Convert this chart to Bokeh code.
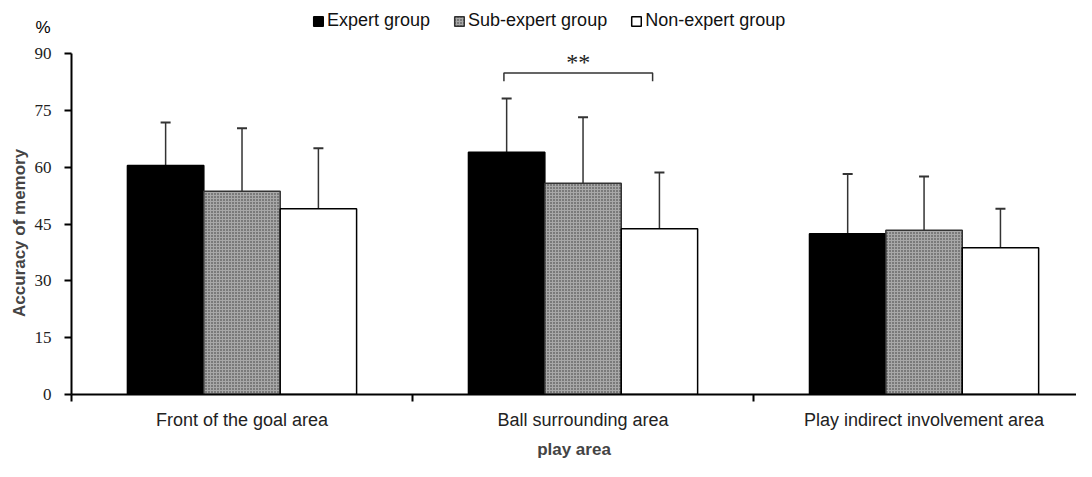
from bokeh.plotting import figure
from bokeh.models import (ColumnDataSource, Range1d, FixedTicker, Whisker, TeeHead,
                          Legend, LegendItem, LinearAxis)
from bokeh.embed import file_html
from bokeh.resources import INLINE
from bokeh.core.properties import value

# ---- data ----
areas = ["Front of the goal area", "Ball surrounding area", "Play indirect involvement area"]
groups = ["Expert group", "Sub-expert group", "Non-expert group"]
expert_mean = [60.5, 64.0, 42.5]
expert_sd = [11.4, 14.2, 15.8]
sub_mean = [53.7, 55.8, 43.4]
sub_sd = [16.7, 17.5, 14.2]
non_mean = [49.1, 43.8, 38.8]
non_sd = [16.0, 14.9, 10.3]
y_ticks = [0, 15, 30, 45, 60, 75, 90]
y_max = 90
y_title = "Accuracy of memory"
x_title = "play area"
unit_label = "%"
unit_pos = 97
sig_label = "**"
sig_y = 85.0
sig_drop = 2.2

# ---- layout constants ----
bar_w = 0.224
offsets = [-0.224, 0.0, 0.224]
centers = [i + 0.5 for i in range(len(areas))]

p = figure(width=1076, height=461, output_backend="svg", toolbar_location=None,
           x_range=Range1d(0, 2.947), y_range=Range1d(0, 104.13),
           min_border_left=71, min_border_right=0, min_border_top=0, min_border_bottom=63)
p.outline_line_color = None
p.xgrid.grid_line_color = None
p.ygrid.grid_line_color = None
p.background_fill_color = "white"

styles = [
    dict(fill_color="black", line_color="black"),
    dict(fill_color="#a8a8a8", line_color="#333333", hatch_pattern="dot",
         hatch_scale=3, hatch_color="#333333", hatch_weight=1.2),
    dict(fill_color="white", line_color="black"),
]
means = [expert_mean, sub_mean, non_mean]
sds = [expert_sd, sub_sd, non_sd]

renderers = []
for gi in range(3):
    xs = [c + offsets[gi] for c in centers]
    src = ColumnDataSource(dict(x=xs, top=means[gi],
                                upper=[m + s for m, s in zip(means[gi], sds[gi])]))
    r = p.vbar(x="x", top="top", width=bar_w, bottom=0, source=src, line_width=1.5,
               **styles[gi])
    renderers.append(r)
    w = Whisker(base="x", lower="top", upper="upper", source=src, dimension="height",
                line_color="#333333", line_width=1.5,
                upper_head=TeeHead(size=10, line_color="#333333", line_width=2),
                lower_head=None)
    p.add_layout(w)

# significance bracket (Expert vs Non-expert in second area)
sx0 = centers[1] + offsets[0] - 0.008
sx1 = centers[1] + offsets[2] - 0.02
p.line(x=[sx0, sx0, sx1, sx1], y=[sig_y - sig_drop, sig_y, sig_y, sig_y - sig_drop],
       line_color="#333333", line_width=1.5)
p.text(x=[(sx0 + sx1) / 2], y=[sig_y + 2.8], text=[sig_label], text_align="center",
       text_baseline="middle", text_font=value("Liberation Serif"),
       text_font_size="24px", text_color="#222222")

# main y axis (0..90)
ya = p.yaxis[0]
ya.bounds = (0, y_max)
ya.ticker = FixedTicker(ticks=y_ticks)
ya.axis_line_width = 2
ya.axis_line_color = "black"
ya.major_tick_line_width = 2
ya.major_tick_out = 7
ya.major_tick_in = 0
ya.minor_tick_line_color = None
ya.major_label_text_font = "Liberation Serif"
ya.major_label_text_font_size = "17px"
ya.major_label_text_color = "#222222"
ya.major_label_standoff = 13

# outer y axis carrying the unit "%" and the axis title
# (trailing no-break spaces lower the rotated title toward the bar area's middle)
yb = LinearAxis(ticker=FixedTicker(ticks=[unit_pos]),
                major_label_overrides={unit_pos: unit_label})
yb.axis_line_color = None
yb.major_tick_line_color = None
yb.minor_tick_line_color = None
yb.major_tick_out = 0
yb.major_tick_in = 0
yb.major_label_standoff = -19
yb.major_label_text_font = "Liberation Sans"
yb.major_label_text_font_size = "17px"
yb.major_label_text_color = "black"
yb.axis_label = y_title + "\u00a0" * 15
yb.axis_label_text_font = "Liberation Sans"
yb.axis_label_text_font_style = "bold"
yb.axis_label_text_font_size = "17px"
yb.axis_label_standoff = 3
p.add_layout(yb, "left")

# x axis
p.xaxis.ticker = FixedTicker(ticks=centers, minor_ticks=[0, 1, 2, 3])
p.xaxis.major_label_overrides = {c: a for c, a in zip(centers, areas)}
p.xaxis.axis_line_width = 2
p.xaxis.axis_line_color = "black"
p.xaxis.major_tick_out = 0
p.xaxis.major_tick_in = 0
p.xaxis.minor_tick_out = 7
p.xaxis.minor_tick_in = 0
p.xaxis.minor_tick_line_width = 2
p.xaxis.minor_tick_line_color = "black"
p.xaxis.major_label_text_font = "Liberation Sans"
p.xaxis.major_label_text_font_size = "18px"
p.xaxis.major_label_text_color = "#222222"
p.xaxis.major_label_standoff = 8
p.xaxis.axis_label = x_title
p.xaxis.axis_label_text_font = "Liberation Sans"
p.xaxis.axis_label_text_font_style = "bold"
p.xaxis.axis_label_text_font_size = "17px"
p.xaxis.axis_label_standoff = 7

legend = Legend(items=[LegendItem(label=g, renderers=[r]) for g, r in zip(groups, renderers)],
                orientation="horizontal", location=(241, 363),
                glyph_width=12, glyph_height=12, label_standoff=3, spacing=23,
                padding=0, margin=0, border_line_color=None, background_fill_alpha=0,
                label_text_font="Liberation Sans", label_text_font_size="18px",
                label_text_color="#111111")
p.add_layout(legend, "center")

open("out.html", "w").write(file_html(p, INLINE))
